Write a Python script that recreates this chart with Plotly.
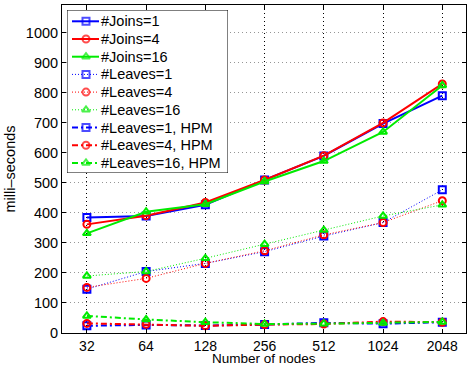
import plotly.graph_objects as go

nodes = ["32", "64", "128", "256", "512", "1024", "2048"]

joins_1 = [385, 390, 427, 510, 590, 698, 791]
joins_4 = [362, 391, 435, 510, 591, 700, 830]
joins_16 = [332, 404, 429, 505, 573, 670, 825]

leaves_1 = [146, 205, 232, 271, 323, 368, 477]
leaves_4 = [152, 182, 232, 274, 327, 368, 441]
leaves_16 = [190, 205, 249, 296, 343, 390, 427]

hpm_1 = [24, 27, 25, 28, 34, 31, 36]
hpm_4 = [32, 29, 24, 28, 30, 38, 36]
hpm_16 = [57, 45, 36, 30, 31, 33, 37]

yticks = [0, 100, 200, 300, 400, 500, 600, 700, 800, 900, 1000]

BLUE, RED, GREEN = "rgb(0,0,255)", "rgb(255,0,0)", "rgb(0,235,0)"
DOT = "1px,2px"

series = [
    ("#Joins=1", joins_1, BLUE, "solid", "square-open", 2),
    ("#Joins=4", joins_4, RED, "solid", "circle-open", 2),
    ("#Joins=16", joins_16, GREEN, "solid", "triangle-up-open", 2),
    ("#Leaves=1", leaves_1, BLUE, DOT, "square-open", 1),
    ("#Leaves=4", leaves_4, RED, DOT, "circle-open", 1),
    ("#Leaves=16", leaves_16, GREEN, DOT, "triangle-up-open", 1),
    ("#Leaves=1, HPM", hpm_1, BLUE, "6px,3px,2px,3px", "square-open", 2),
    ("#Leaves=4, HPM", hpm_4, RED, "6px,3px,2px,3px", "circle-open", 2),
    ("#Leaves=16, HPM", hpm_16, GREEN, "6px,3px,2px,3px", "triangle-up-open", 2),
]

FONT = "Liberation Sans, Arial, sans-serif"
FS = 14.5

xi = list(range(len(nodes)))
fig = go.Figure()
for name, ys, col, dash, sym, w in series:
    fig.add_trace(go.Scatter(
        x=xi, y=ys, name=name, mode="lines+markers", showlegend=False,
        line=dict(color=col, dash=dash, width=w),
        marker=dict(symbol=sym, size=7, color=col, line=dict(color=col, width=2)),
    ))

# manual legend drawn in an inset axis (units: pixels inside the legend box)
LW, LH = 161, 163
row0, rowstep = 11.3, 17.7
for i, (name, ys, col, dash, sym, w) in enumerate(series):
    yy = row0 + rowstep * i
    fig.add_trace(go.Scatter(
        x=[5, 19, 32], y=[yy, yy, yy], xaxis="x2", yaxis="y2",
        mode="lines+markers", showlegend=False, hoverinfo="skip",
        line=dict(color=col, dash=dash, width=w),
        marker=dict(symbol=sym, size=[0, 7, 0], color=col, line=dict(color=col, width=2)),
    ))
    fig.add_annotation(
        x=33, y=yy, xref="x2", yref="y2", text=name, showarrow=False,
        xanchor="left", yanchor="middle", borderpad=0,
        font=dict(family=FONT, size=FS, color="black"),
    )

fig.add_shape(type="rect", xref="x2", yref="y2", x0=0, x1=LW, y0=0, y1=LH,
              fillcolor="white", line=dict(color="black", width=1), layer="below")

PL, PR, PT, PB = 62, 3, 5, 34
W, H = 469, 367
pw, ph = W - PL - PR, H - PT - PB
bx0, by0 = 67, 10

# x-axis title as an annotation so it can sit just under the tick labels
fig.add_annotation(
    x=0.5, y=0, xref="paper", yref="paper", text="Number of nodes", showarrow=False,
    xanchor="center", yanchor="bottom", yshift=-PB, borderpad=0,
    font=dict(family=FONT, size=13.5, color="black"),
)

fig.update_layout(
    width=W, height=H,
    margin=dict(l=PL, r=PR, t=PT, b=PB),
    paper_bgcolor="white", plot_bgcolor="white",
    font=dict(family=FONT, size=FS, color="black"),
    showlegend=False,
    xaxis=dict(
        range=[-0.42, 6.4], tickvals=xi, ticktext=nodes, automargin=False,
        tickfont=dict(size=14),
        showgrid=True, gridcolor="black", griddash="1px,3px", gridwidth=1,
        showline=True, linecolor="black", linewidth=1, mirror="ticks",
        ticks="inside", ticklen=4, tickcolor="black",
        zeroline=False,
    ),
    yaxis=dict(
        range=[0, 1093], tickvals=yticks, automargin=False,
        showgrid=True, gridcolor="rgb(150,150,150)", griddash="1px,3px", gridwidth=1,
        showline=True, linecolor="black", linewidth=1, mirror="ticks",
        ticks="inside", ticklen=4, tickcolor="black",
        zeroline=False,
        title=dict(text="milli–seconds", standoff=6, font=dict(size=FS)),
    ),
    xaxis2=dict(
        domain=[(bx0 - PL) / pw, (bx0 + LW - PL) / pw], range=[0, LW],
        anchor="y2", visible=False, fixedrange=True,
    ),
    yaxis2=dict(
        domain=[(H - PB - (by0 + LH)) / ph, (H - PB - by0) / ph], range=[LH, 0],
        anchor="x2", visible=False, fixedrange=True,
    ),
)

fig.write_html(
    "out.html",
    config={"displayModeBar": False},
    post_script="document.body.style.margin='0';document.body.style.overflow='hidden';",
)
